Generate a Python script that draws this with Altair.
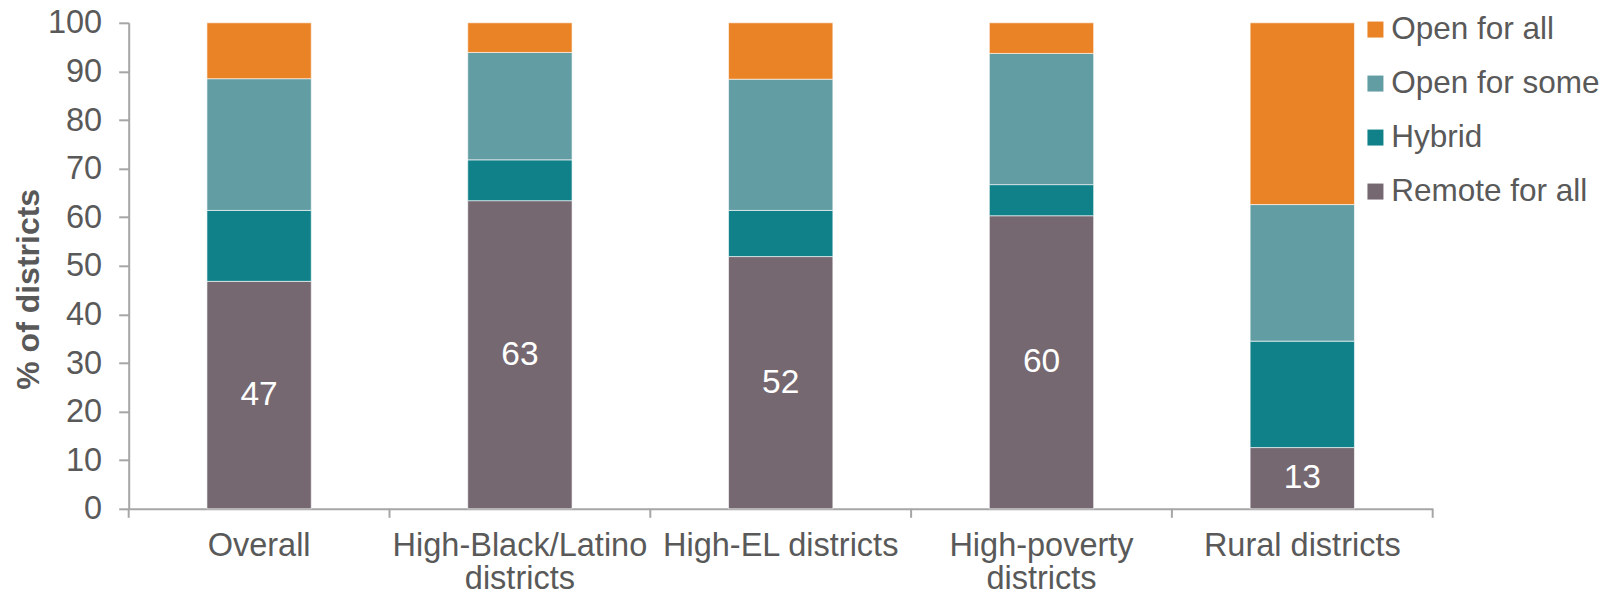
import altair as alt
import pandas as pd

categories = ["Overall", "High-Black/Latino districts", "High-EL districts",
              "High-poverty districts", "Rural districts"]
series = ["Open for all", "Open for some", "Hybrid", "Remote for all"]
remote_for_all = [46.8, 63.4, 51.9, 60.3, 12.6]
hybrid = [14.6, 8.4, 9.5, 6.4, 21.9]
open_for_some = [27.1, 22.1, 27.0, 27.0, 28.1]
open_for_all = [11.5, 6.1, 11.6, 6.3, 37.4]
remote_labels = ["47", "63", "52", "60", "13"]
colors = ["#E98326", "#639DA4", "#108189", "#756871"]
tick_boundaries = [0, 1, 2, 3, 4, 5]

rows = []
for i, c in enumerate(categories):
    for rank, (s, vals) in enumerate([("Remote for all", remote_for_all), ("Hybrid", hybrid),
                                      ("Open for some", open_for_some), ("Open for all", open_for_all)]):
        rows.append({"category": c, "series": s, "value": vals[i], "rank": rank})
df = pd.DataFrame(rows)

lab_df = pd.DataFrame({"category": categories, "value": remote_for_all, "label": remote_labels})
tick_df = pd.DataFrame({"b": tick_boundaries})

W, H = 1304, 486
FONT = "Liberation Sans"
GRAY = "#595959"
AX = "#A6A6A6"

x_enc = alt.X("category:N", sort=categories, title=None,
              scale=alt.Scale(paddingInner=0.6, paddingOuter=0.3),
              axis=alt.Axis(labelAngle=0, labelFontSize=32.5, labelColor=GRAY, labelFont=FONT,
                            ticks=False, domainColor=AX, domainWidth=2, labelPadding=21,
                            labelLineHeight=33, labelBaseline="top", labelLimit=0,
                            labelExpr="datum.label == 'High-Black/Latino districts' ? ['High-Black/Latino', 'districts'] : datum.label == 'High-poverty districts' ? ['High-poverty', 'districts'] : datum.label"))

bars = alt.Chart(df).mark_bar(stroke="white", strokeWidth=0.6).encode(
    x=x_enc,
    y=alt.Y("value:Q", stack="zero", title="% of districts",
            scale=alt.Scale(domain=[0, 100], nice=False),
            axis=alt.Axis(values=list(range(0, 101, 10)), grid=False, labelFontSize=32.5,
                          labelColor=GRAY, labelFont=FONT, tickSize=10, tickColor=AX, tickWidth=2,
                          domainColor=AX, domainWidth=2, labelPadding=17,
                          titleFont=FONT, titleFontSize=32, titleFontWeight="bold", titleColor=GRAY,
                          titleAngle=-90, titleX=-100, titleY=266, titleAlign="center",
                          titleBaseline="middle")),
    color=alt.Color("series:N", scale=alt.Scale(domain=series, range=colors),
                    legend=alt.Legend(title=None, orient="none", legendX=1231, legendY=-9,
                                      symbolType="square", symbolSize=256, symbolStrokeWidth=0,
                                      labelFontSize=31.5, labelFont=FONT, labelColor=GRAY,
                                      rowPadding=21, labelOffset=0, padding=0,
                                      labelLimit=400)),
    order=alt.Order("rank:Q", sort="ascending"),
)

labels = alt.Chart(lab_df).transform_calculate(mid="datum.value / 2").mark_text(
    color="white", fontSize=33.5, font=FONT, baseline="middle", align="center"
).encode(
    x=alt.X("category:N", sort=categories),
    y=alt.Y("mid:Q"),
    text="label:N",
)

main = alt.layer(bars, labels)

ticks = alt.Chart(tick_df).mark_rule(color=AX, strokeWidth=2).encode(
    x=alt.X("b:Q", scale=alt.Scale(domain=[0, 5], nice=False, zero=False), axis=None),
    y=alt.value(H),
    y2=alt.value(H + 9),
)

chart = alt.layer(main, ticks).resolve_scale(x="independent").properties(
    width=W, height=H, background="white",
    autosize=alt.AutoSizeParams(type="none"),
    padding={"left": 128.7, "top": 22.8, "right": 172.3, "bottom": 87.2},
).configure_view(stroke="transparent", strokeWidth=0)

chart.save("out.html", embed_options={"renderer": "svg", "actions": False})
